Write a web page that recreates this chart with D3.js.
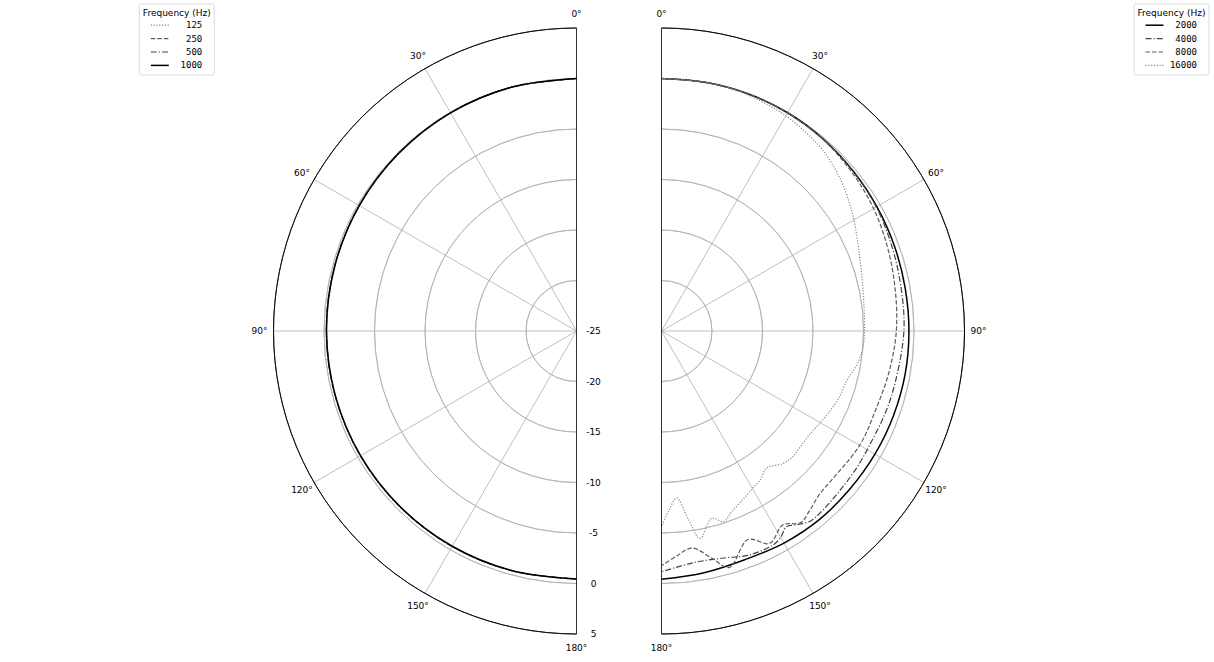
<!DOCTYPE html>
<html>
<head>
<meta charset="utf-8">
<script src="https://cdn.jsdelivr.net/npm/d3@7"></script>
<style>
  body { margin: 0; background: #fff; }
  svg { display: block; font-family: "DejaVu Sans", sans-serif; }
</style>
</head>
<body>
<div id="chart"></div>
<script>
// ticks
const radialTicks = [-25, -20, -15, -10, -5, 0, 5];
const gridRings = [-20, -15, -10, -5, 0];
const angleTicks = [0, 30, 60, 90, 120, 150, 180];

// left half: low frequencies (dB vs angle)
const degLow = [0, 15, 30, 45, 60, 75, 90, 105, 120, 135, 150, 165, 180];
const db125  = [0, -0.01, -0.04, -0.09, -0.14, -0.19, -0.22, -0.25, -0.28, -0.32, -0.36, -0.40, -0.42];
const db250  = [0, -0.01, -0.05, -0.10, -0.15, -0.20, -0.23, -0.26, -0.29, -0.33, -0.37, -0.41, -0.43];
const db500  = [0, -0.02, -0.05, -0.11, -0.16, -0.21, -0.24, -0.27, -0.30, -0.34, -0.38, -0.42, -0.44];
const db1000 = [0, -0.02, -0.06, -0.12, -0.17, -0.22, -0.25, -0.28, -0.31, -0.35, -0.39, -0.43, -0.45];

// right half: high frequencies
const deg2000 = [0, 10, 20, 30, 40, 50, 60, 70, 80, 90, 100, 110, 120, 130, 140, 150, 160, 170, 180];
const db2000  = [0, 0, 0, -0.05, -0.15, -0.28, -0.38, -0.45, -0.5, -0.5, -0.5, -0.55, -0.6, -0.65, -0.65, -0.75, -0.9, -0.7, -0.42];

const deg4000 = [0, 10, 20, 30, 40, 50, 60, 70, 80, 90, 102, 110, 119, 125, 132, 139, 142, 144.5, 147.5, 150, 152.5, 159, 164, 172, 180];
const db4000  = [0, 0, 0, -0.05, -0.15, -0.3, -0.45, -0.7, -0.9, -1.0, -1.3, -1.4, -1.5, -1.4, -1.3, -1.1, -1.1, -1.5, -2.0, -1.4, -1.1, -1.2, -1.65, -1.85, -1.15];

const deg8000 = [0, 10, 20, 30, 40, 50, 60, 70, 80, 90, 100, 110, 120, 130, 136, 140.5, 144, 148, 153, 157.5, 164, 167.5, 172, 176, 180];
const db8000  = [0, 0, 0, -0.05, -0.2, -0.45, -0.75, -1.15, -1.5, -1.75, -2.1, -2.4, -2.35, -2.6, -2.5, -1.95, -1.55, -2.35, -1.4, -2.65, -0.65, -1.95, -3.3, -2.7, -1.75];

const deg16000 = [0, 10, 20, 30, 40, 45, 50, 55, 60, 65, 70, 75, 80, 85, 90, 95, 100, 105, 110, 115, 120, 125, 130, 134, 137.5, 142.5, 146.5, 150, 154, 158.8, 162, 165, 169.5, 172, 174.8, 177.5, 180];
const db16000  = [0, 0, -0.12, -0.4, -0.9, -1.3, -1.8, -2.4, -3.0, -3.6, -4.1, -4.45, -4.7, -4.85, -4.9, -5.0, -5.4, -6.0, -6.2, -6.5, -6.85, -7.1, -7.1, -7.0, -7.2, -7.9, -7.3, -7.0, -6.5, -5.8, -5.15, -5.8, -4.1, -6.3, -8.4, -7.3, -5.6];

const lowLabels  = ["125", "250", "500", "1000"];
const highLabels = ["2000", "4000", "8000", "16000"];

// line styles
const styles = {
  solid:   { color: "#000", width: 1.5, dash: null },
  dashdot: { color: "#444", width: 1.2, dash: "6,2,1.2,2" },
  dashed:  { color: "#5e5e5e", width: 1.2, dash: "4.5,2" },
  dotted:  { color: "#888", width: 1.2, dash: "1.2,1.6" }
};

const zip = (a, b) => a.map((v, i) => [v, b[i]]);

const lowSeries = [
  { label: lowLabels[0], pts: zip(degLow, db125),  style: styles.dotted },
  { label: lowLabels[1], pts: zip(degLow, db250),  style: styles.dashed },
  { label: lowLabels[2], pts: zip(degLow, db500),  style: styles.dashdot },
  { label: lowLabels[3], pts: zip(degLow, db1000), style: styles.solid }
];
const highSeries = [
  { label: highLabels[0], pts: zip(deg2000, db2000),   style: styles.solid },
  { label: highLabels[1], pts: zip(deg4000, db4000),   style: styles.dashdot },
  { label: highLabels[2], pts: zip(deg8000, db8000),   style: styles.dashed },
  { label: highLabels[3], pts: zip(deg16000, db16000), style: styles.dotted }
];

const W = 1214, H = 662;
const R = 303;
const svg = d3.select("#chart").append("svg")
  .attr("width", W).attr("height", H);

const r = d3.scaleLinear().domain([-25, 5]).range([0, R]);
const rad = d => d * Math.PI / 180;

function halfPolar(cx, cy, side, series, showRadial) {
  const g = svg.append("g").attr("transform", `translate(${cx},${cy})`);

  // grid rings
  const arc = d3.arc().startAngle(0).endAngle(side * Math.PI);
  g.selectAll(".ring").data(gridRings).join("path")
    .attr("d", v => arc({ innerRadius: r(v), outerRadius: r(v) }))
    .attr("fill", "none").attr("stroke", "#b0b0b0").attr("stroke-width", 0.8);

  // spokes
  g.selectAll(".spoke").data(angleTicks.slice(1, -1)).join("line")
    .attr("x1", 0).attr("y1", 0)
    .attr("x2", a => side * R * Math.sin(rad(a)))
    .attr("y2", a => -R * Math.cos(rad(a)))
    .attr("stroke", "#b0b0b0").attr("stroke-width", 0.8);

  // curves
  const line = d3.lineRadial()
    .angle(d => side * rad(d[0]))
    .radius(d => r(d[1]))
    .curve(d3.curveCatmullRom.alpha(0.5));
  g.selectAll(".curve").data(series).join("path")
    .attr("d", s => line(s.pts))
    .attr("fill", "none")
    .attr("stroke", s => s.style.color)
    .attr("stroke-width", s => s.style.width)
    .attr("stroke-dasharray", s => s.style.dash);

  // spines
  g.append("path")
    .attr("d", arc({ innerRadius: R, outerRadius: R }))
    .attr("fill", "none").attr("stroke", "#000").attr("stroke-width", 0.8);
  g.append("line")
    .attr("x1", 0).attr("y1", -R).attr("x2", 0).attr("y2", R)
    .attr("stroke", "#000").attr("stroke-width", 0.8);

  // angle labels
  g.selectAll(".alab").data(angleTicks).join("text")
    .attr("x", a => side * (R + 14) * Math.sin(rad(a)))
    .attr("y", a => -(R + 14) * Math.cos(rad(a)))
    .attr("text-anchor", "middle").attr("dominant-baseline", "central")
    .attr("font-size", 9).attr("fill", "#000")
    .text(a => a + "°");

  if (showRadial) {
    g.selectAll(".rlab").data(radialTicks).join("text")
      .attr("x", 17).attr("y", v => r(v))
      .attr("text-anchor", "middle").attr("dominant-baseline", "central")
      .attr("font-size", 9).attr("fill", "#000")
      .text(v => v);
  }
}

function legend(x, y, series) {
  const g = svg.append("g").attr("transform", `translate(${x},${y})`);
  g.append("rect")
    .attr("width", 75).attr("height", 71).attr("rx", 2)
    .attr("fill", "#fff").attr("stroke", "#d0d0d0").attr("stroke-width", 0.8);
  g.append("text")
    .attr("x", 37.5).attr("y", 8.7)
    .attr("text-anchor", "middle").attr("dominant-baseline", "central")
    .attr("font-size", 9).text("Frequency (Hz)");
  const rows = g.selectAll(".row").data(series).join("g")
    .attr("transform", (s, i) => `translate(0,${21.2 + i * 13.4})`);
  rows.append("line")
    .attr("x1", 11.5).attr("x2", 29.5)
    .attr("stroke", s => s.style.color)
    .attr("stroke-width", s => s.style.width)
    .attr("stroke-dasharray", s => s.style.dash);
  rows.append("text")
    .attr("x", 63).attr("text-anchor", "end").attr("dominant-baseline", "central")
    .attr("font-family", "'DejaVu Sans Mono', monospace").attr("font-size", 9)
    .text(s => s.label);
}

halfPolar(576.5, 331, -1, lowSeries, true);
halfPolar(661.5, 331, 1, highSeries, false);
legend(139.3, 4, lowSeries);
legend(1134, 4, highSeries);
</script>
</body>
</html>
